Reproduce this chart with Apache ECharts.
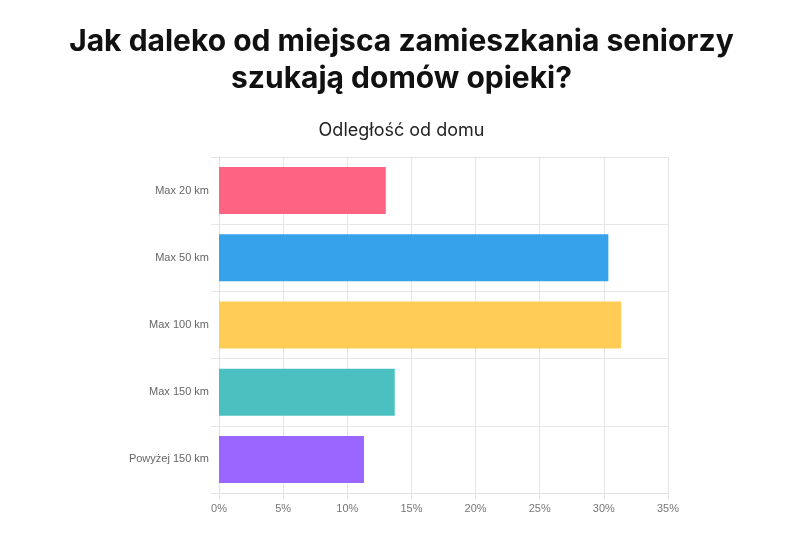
<!DOCTYPE html>
<html>
<head>
<meta charset="utf-8">
<script src="https://cdn.jsdelivr.net/npm/echarts@6/dist/echarts.min.js"></script>
<style>
html,body{margin:0;padding:0;background:#fff;}
#chart{width:803px;height:533px;}
</style>
</head>
<body>
<div id="chart"></div>
<script>
const titleLines = ['Jak daleko od miejsca zamieszkania seniorzy', 'szukają domów opieki?'];
const subtitleText = 'Odległość od domu';
const categories = ['Max 20 km', 'Max 50 km', 'Max 100 km', 'Max 150 km', 'Powyżej 150 km'];
const values = [13.0, 30.35, 31.35, 13.7, 11.3];
const xTicks = [0, 5, 10, 15, 20, 25, 30, 35];

const palette = ['#FF6384', '#36A2EB', '#FFCD56', '#4BC0C0', '#9966FF'];
const titleTops = [27, 64];

const chart = echarts.init(document.getElementById('chart'), null, {renderer: 'canvas'});
chart.setOption({
  backgroundColor: '#ffffff',
  animation: false,
  title: titleLines.map((t, i) => ({
    text: t,
    left: 'center',
    top: titleTops[i],
    padding: 0,
    textStyle: {fontFamily: 'Inter', fontWeight: 700, fontSize: 30, color: '#111'}
  })).concat([{
    text: subtitleText,
    left: 'center',
    top: 122,
    padding: 0,
    textStyle: {fontFamily: 'Inter', fontWeight: 400, fontSize: 18, color: '#222'}
  }]),
  grid: {left: 219, right: 135, top: 157, bottom: 40, containLabel: false},
  xAxis: {
    type: 'value',
    min: xTicks[0],
    max: xTicks[xTicks.length - 1],
    interval: 5,
    axisLine: {show: true, lineStyle: {color: '#e0e0e0'}},
    axisTick: {show: true, length: 6, lineStyle: {color: '#e6e6e6'}},
    splitLine: {show: true, lineStyle: {color: '#e6e6e6'}},
    axisLabel: {formatter: '{value}%', color: '#777', fontSize: 11, fontFamily: 'Liberation Sans', margin: 10}
  },
  yAxis: {
    type: 'category',
    data: categories,
    inverse: true,
    axisLine: {show: true, lineStyle: {color: '#e0e0e0'}},
    axisTick: {show: true, length: 8, lineStyle: {color: '#e6e6e6'}},
    splitLine: {show: true, lineStyle: {color: '#e6e6e6'}},
    axisLabel: {color: '#666', fontSize: 11, fontFamily: 'Liberation Sans', margin: 10}
  },
  series: [{
    type: 'bar',
    data: values.map((v, i) => ({value: v, itemStyle: {color: palette[i]}})),
    barCategoryGap: '30%',
    itemStyle: {borderWidth: 0}
  }]
});
</script>
</body>
</html>
